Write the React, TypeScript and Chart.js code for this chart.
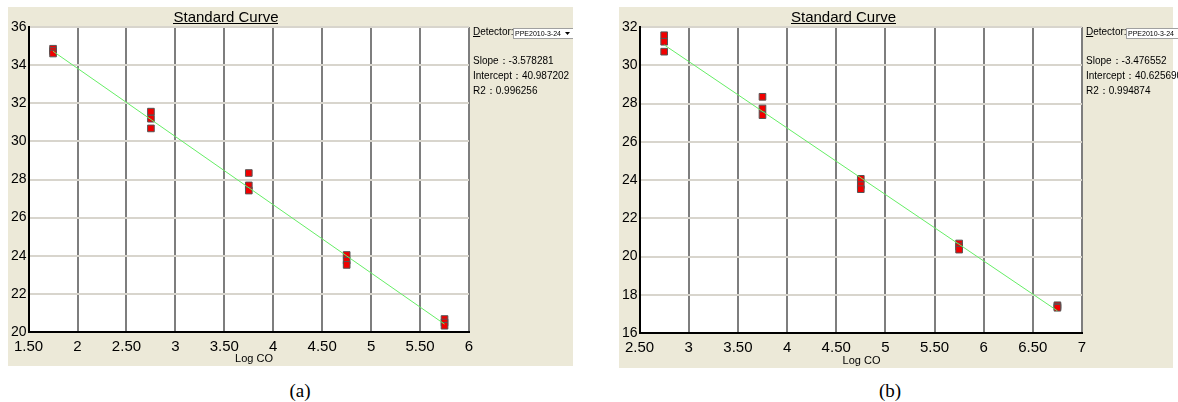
import React, { useEffect, useRef } from "react";
import { Chart, registerables } from "chart.js";

Chart.register(...registerables);

const FONT = "'Liberation Sans', Arial, sans-serif";

// ---- Panel (a) data ----
const logCoA = [1.75, 1.75, 1.75, 2.75, 2.75, 2.75, 3.75, 3.75, 3.75, 4.75, 4.75, 4.75, 5.75, 5.75, 5.75];
const ctA = [34.86, 34.74, 34.61, 31.56, 31.19, 30.68, 28.34, 27.69, 27.42, 24.04, 23.74, 23.52, 20.68, 20.5, 20.33];
const statsA = { slope: -3.578281, intercept: 40.987202, r2: 0.996256 };
const xRangeA = [1.5, 6];
const yRangeA = [20, 36];

// ---- Panel (b) data ----
const logCoB = [2.75, 2.75, 2.75, 3.75, 3.75, 3.75, 4.75, 4.75, 4.75, 5.75, 5.75, 5.75, 6.75, 6.75, 6.75];
const ctB = [31.57, 31.23, 30.71, 28.35, 27.74, 27.39, 24.06, 23.73, 23.52, 20.68, 20.52, 20.36, 17.45, 17.38, 17.32];
const statsB = { slope: -3.476552, intercept: 40.62569, r2: 0.994874 };
const xRangeB = [2.5, 7];
const yRangeB = [16, 32];

const xStep = 0.5;
const yStep = 2;
const detectorName = "PPE2010-3-24";

type PanelProps = {
  xs: number[];
  ys: number[];
  stats: { slope: number; intercept: number; r2: number };
  xRange: number[];
  yRange: number[];
  layout: {
    left: number; top: number; width: number; height: number; bgWidth: number;
    yAxisW: number; xAxisH: number; padTop: number; padRight: number;
    titleX: number; axisTitleX: number; axisTitleY: number; sideX: number;
  };
};

function fmtTick(v: number) {
  return Math.abs(v - Math.round(v)) < 1e-9 ? String(Math.round(v)) : v.toFixed(2);
}

function Panel({ xs, ys, stats, xRange, yRange, layout }: PanelProps) {
  const ref = useRef<HTMLCanvasElement | null>(null);
  useEffect(() => {
    const canvas = ref.current;
    if (!canvas) return;
    const pts = xs.map((x, i) => ({ x, y: ys[i] }));
    const xmin = Math.min(...xs);
    const xmax = Math.max(...xs);
    const fit = [xmin, xmax].map((x) => ({ x, y: stats.slope * x + stats.intercept }));

    const decor = {
      id: "decor",
      beforeDraw(chart: any) {
        const ctx = chart.ctx;
        const a = chart.chartArea;
        ctx.save();
        ctx.fillStyle = "#ffffff";
        ctx.fillRect(0, 0, chart.width, chart.height);
        ctx.fillStyle = "#ece9d8";
        ctx.fillRect(0, 0, layout.bgWidth, chart.height);
        ctx.fillStyle = "#ffffff";
        ctx.fillRect(a.left, a.top, a.right - a.left, a.bottom - a.top);
        ctx.restore();
      },
      afterDraw(chart: any) {
        const ctx = chart.ctx;
        ctx.save();
        ctx.fillStyle = "#000";
        // title
        ctx.font = `15px ${FONT}`;
        ctx.textAlign = "center";
        ctx.textBaseline = "alphabetic";
        ctx.fillText("Standard Curve", layout.titleX, 14.5);
        const tw = ctx.measureText("Standard Curve").width;
        ctx.fillRect(Math.round(layout.titleX - tw / 2), 16, Math.round(tw), 1);
        // axis title
        ctx.font = `11px ${FONT}`;
        ctx.textBaseline = "middle";
        ctx.fillText("Log CO", layout.axisTitleX, layout.axisTitleY);
        // detector
        ctx.textAlign = "left";
        ctx.textBaseline = "alphabetic";
        ctx.font = `10px ${FONT}`;
        ctx.fillText("Detector:", layout.sideX, 28);
        const dw = ctx.measureText("D").width;
        ctx.fillRect(layout.sideX, 29, dw, 1);
        const bx = layout.sideX + 40;
        ctx.fillStyle = "#ffffff";
        ctx.fillRect(bx, 21, 60, 11);
        ctx.strokeStyle = "#a0a0a0";
        ctx.lineWidth = 1;
        ctx.strokeRect(bx + 0.5, 21.5, 60, 10);
        ctx.fillStyle = "#000";
        ctx.font = `7px ${FONT}`;
        ctx.fillText(detectorName, bx + 2, 29);
        // arrow
        ctx.beginPath();
        ctx.moveTo(bx + 52, 25);
        ctx.lineTo(bx + 57, 25);
        ctx.lineTo(bx + 54.5, 28);
        ctx.closePath();
        ctx.fill();
        // stats
        ctx.font = `10px ${FONT}`;
        ctx.fillText(`Slope：${stats.slope.toFixed(6)}`, layout.sideX, 57);
        ctx.fillText(`Intercept：${stats.intercept.toFixed(6)}`, layout.sideX, 72);
        ctx.fillText(`R2：${stats.r2.toFixed(6)}`, layout.sideX, 86.5);
        ctx.restore();
      },
    };

    const chart = new Chart(canvas, {
      type: "scatter",
      data: {
        datasets: [
          {
            label: "fit",
            data: fit,
            showLine: true,
            borderColor: "#66ee66",
            borderWidth: 1,
            pointRadius: 0,
            fill: false,
          },
          {
            label: "Ct",
            data: pts,
            pointStyle: "rect",
            pointRadius: 4.7,
            pointBackgroundColor: "#f20000",
            pointBorderColor: "#555555",
            pointBorderWidth: 1,
          },
        ],
      },
      options: {
        responsive: false,
        animation: false,
        events: [],
        layout: { padding: { top: layout.padTop, right: layout.padRight, left: 0, bottom: 0 } },
        plugins: { legend: { display: false }, tooltip: { enabled: false }, title: { display: false } },
        scales: {
          x: {
            type: "linear",
            min: xRange[0],
            max: xRange[1],
            afterFit: (s: any) => { s.height = layout.xAxisH; },
            grid: { color: "#7e7e7e", lineWidth: 2, drawTicks: false },
            border: { display: true, color: "#000", width: 2 },
            ticks: {
              stepSize: xStep,
              autoSkip: false,
              maxRotation: 0,
              padding: 6,
              color: "#000",
              font: { family: FONT, size: 15 },
              callback: (v: any) => fmtTick(Number(v)),
            },
          },
          y: {
            type: "linear",
            min: yRange[0],
            max: yRange[1],
            afterFit: (s: any) => { s.width = layout.yAxisW; },
            grid: { color: "#d8d5cd", lineWidth: 2, drawTicks: false },
            border: { display: true, color: "#000", width: 2 },
            ticks: {
              stepSize: yStep,
              padding: 2,
              color: "#000",
              font: { family: FONT, size: 14 },
              callback: (v: any) => fmtTick(Number(v)),
            },
          },
        },
      },
      plugins: [decor],
    } as any);
    return () => chart.destroy();
  }, []);
  return (
    <canvas
      ref={ref}
      width={layout.width}
      height={layout.height}
      style={{ position: "absolute", left: layout.left, top: layout.top, width: layout.width, height: layout.height }}
    />
  );
}

export default function App() {
  const capStyle: React.CSSProperties = {
    position: "absolute",
    top: 379,
    width: 40,
    textAlign: "center",
    fontFamily: "'Liberation Serif', 'Times New Roman', serif",
    fontSize: 19,
    lineHeight: "24px",
    color: "#000",
  };
  return (
    <div style={{ position: "absolute", left: 0, top: 0, width: 1178, height: 402, background: "#fff", overflow: "hidden" }}>
      <Panel
        xs={logCoA}
        ys={ctA}
        stats={statsA}
        xRange={xRangeA}
        yRange={yRangeA}
        layout={{
          left: 8, top: 7, width: 565, height: 359, bgWidth: 565,
          yAxisW: 20, xAxisH: 34, padTop: 20, padRight: 104,
          titleX: 218, axisTitleX: 246, axisTitleY: 351.5, sideX: 465,
        }}
      />
      <Panel
        xs={logCoB}
        ys={ctB}
        stats={statsB}
        xRange={xRangeB}
        yRange={yRangeB}
        layout={{
          left: 619, top: 7, width: 559, height: 361, bgWidth: 554,
          yAxisW: 19, xAxisH: 35, padTop: 20, padRight: 96,
          titleX: 224.5, axisTitleX: 242.5, axisTitleY: 354, sideX: 467,
        }}
      />
      <div style={{ ...capStyle, left: 280 }}>(a)</div>
      <div style={{ ...capStyle, left: 870 }}>(b)</div>
    </div>
  );
}
